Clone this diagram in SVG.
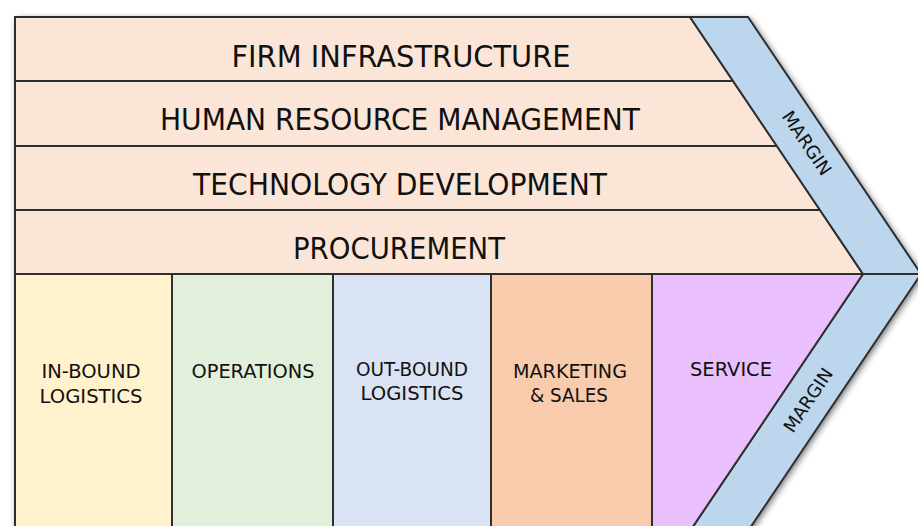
<svg xmlns="http://www.w3.org/2000/svg" width="918" height="526" viewBox="0 0 918 526">
  <defs>
    <filter id="shadow" x="-5%" y="-5%" width="110%" height="110%">
      <feGaussianBlur in="SourceAlpha" stdDeviation="3.5"/>
      <feOffset dx="2" dy="2" result="b"/>
      <feComponentTransfer><feFuncA type="linear" slope="0.6"/></feComponentTransfer>
    </filter>
  </defs>
  <style>
    .cell { stroke: #2f2f2f; stroke-width: 2; stroke-linejoin: miter; }
    .sup { fill: #FBE5D7; }
    .mar { fill: #BCD6EE; }
    .big { font-family: "DejaVu Sans", "Liberation Sans", sans-serif; font-size: 30px; fill: #111; text-anchor: middle; }
    .sm { font-family: "DejaVu Sans", "Liberation Sans", sans-serif; font-size: 19px; fill: #111; text-anchor: middle; }
    .mg { font-family: "DejaVu Sans", "Liberation Sans", sans-serif; font-size: 18px; fill: #111; text-anchor: middle; }
  </style>
  <rect width="918" height="526" fill="#ffffff"/>
  <polygon points="15,17 748,17 921,274 748,531 15,531" fill="#000" filter="url(#shadow)"/>

  <g id="firm-infrastructure">
    <polygon class="cell sup" points="15,17 690,17 733,81 15,81"/>
    <text class="big" x="401" y="67" textLength="339" lengthAdjust="spacingAndGlyphs">FIRM INFRASTRUCTURE</text>
  </g>
  <g id="human-resource-management">
    <polygon class="cell sup" points="15,81 733,81 777,146 15,146"/>
    <text class="big" x="400" y="130" textLength="480" lengthAdjust="spacingAndGlyphs">HUMAN RESOURCE MANAGEMENT</text>
  </g>
  <g id="technology-development">
    <polygon class="cell sup" points="15,146 777,146 820,210 15,210"/>
    <text class="big" x="400" y="195" textLength="414" lengthAdjust="spacingAndGlyphs">TECHNOLOGY DEVELOPMENT</text>
  </g>
  <g id="procurement">
    <polygon class="cell sup" points="15,210 820,210 863,274 15,274"/>
    <text class="big" x="399" y="259" textLength="212" lengthAdjust="spacingAndGlyphs">PROCUREMENT</text>
  </g>

  <g id="margin-top">
    <polygon class="cell mar" points="690,17 748,17 921,274 863,274"/>
    <text class="mg" transform="translate(807,143) rotate(56)" x="0" y="6.5">MARGIN</text>
  </g>
  <g id="margin-bottom">
    <polygon class="cell mar" points="863,274 921,274 748,531 690,531"/>
    <text class="mg" transform="translate(808,400) rotate(-56)" x="0" y="6.5">MARGIN</text>
  </g>

  <g id="inbound-logistics">
    <rect class="cell" x="15" y="274" width="157" height="257" fill="#FFF2CD"/>
    <text class="sm" x="91" y="378" textLength="99" lengthAdjust="spacingAndGlyphs">IN-BOUND</text>
    <text class="sm" x="91" y="403" textLength="103" lengthAdjust="spacingAndGlyphs">LOGISTICS</text>
  </g>
  <g id="operations">
    <rect class="cell" x="172" y="274" width="161" height="257" fill="#E2EFDA"/>
    <text class="sm" x="253" y="378" textLength="123" lengthAdjust="spacingAndGlyphs">OPERATIONS</text>
  </g>
  <g id="outbound-logistics">
    <rect class="cell" x="333" y="274" width="158" height="257" fill="#DAE3F3"/>
    <text class="sm" x="412" y="376" textLength="112" lengthAdjust="spacingAndGlyphs">OUT-BOUND</text>
    <text class="sm" x="412" y="400" textLength="103" lengthAdjust="spacingAndGlyphs">LOGISTICS</text>
  </g>
  <g id="marketing-sales">
    <rect class="cell" x="491" y="274" width="161" height="257" fill="#F8CBAD"/>
    <text class="sm" x="570" y="378" textLength="114" lengthAdjust="spacingAndGlyphs">MARKETING</text>
    <text class="sm" x="569" y="402" textLength="78" lengthAdjust="spacingAndGlyphs">&amp; SALES</text>
  </g>
  <g id="service">
    <polygon class="cell" points="652,274 863,274 690,531 652,531" fill="#EAC0FC"/>
    <text class="sm" x="731" y="376" textLength="82" lengthAdjust="spacingAndGlyphs">SERVICE</text>
  </g>
</svg>
